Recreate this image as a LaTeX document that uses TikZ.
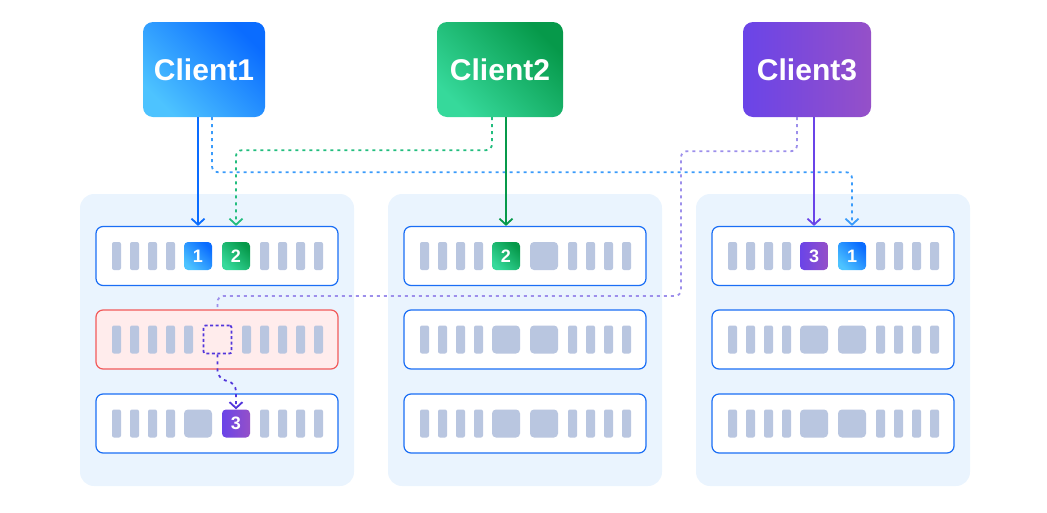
\documentclass[tikz,border=0pt]{standalone}
\usepackage{fontspec}
\setmainfont{Liberation Sans}
\usepackage{tikz}
\usetikzlibrary{arrows.meta, positioning, calc}
\usepackage{xcolor}
\definecolor{panelblue}{HTML}{EAF4FE}
\definecolor{rowblue}{HTML}{1A6EF5}
\definecolor{faultred}{HTML}{F25A5A}
\definecolor{faultpink}{HTML}{FFECEC}
\definecolor{slotgray}{HTML}{B9C6E0}
\definecolor{blueA}{HTML}{0A6CFF}
\definecolor{blueB}{HTML}{4DC3FF}
\definecolor{greenA}{HTML}{06994A}
\definecolor{greenB}{HTML}{36D99B}
\definecolor{purpleA}{HTML}{6A44E8}
\definecolor{purpleB}{HTML}{9550C8}
\definecolor{bluedot}{HTML}{3A9BFA}
\definecolor{greendot}{HTML}{22BD7E}
\definecolor{purpledot}{HTML}{9D8FEB}
\definecolor{deeppurple}{HTML}{5236DB}
\tikzstyle{panel} = [fill=panelblue, rounded corners=14pt, minimum width=274pt, minimum height=292pt, inner sep=0pt]
\tikzstyle{rowbox} = [draw=rowblue, fill=white, line width=1.2pt, rounded corners=7pt, minimum width=242pt, minimum height=59pt, inner sep=0pt]
\tikzstyle{faultrow} = [rowbox, draw=faultred, fill=faultpink]
\tikzstyle{bar} = [fill=slotgray, rounded corners=2pt, minimum width=9pt, minimum height=28pt, inner sep=0pt]
\tikzstyle{slot} = [fill=slotgray, rounded corners=4pt, minimum size=28pt, inner sep=0pt]
\tikzstyle{chunk} = [rounded corners=4pt, minimum size=28pt, inner sep=0pt, text=white, font=\fontsize{18}{18}\selectfont\bfseries]
\tikzstyle{lost} = [draw=deeppurple, line width=1.8pt, dash pattern=on 3pt off 2.5pt, rounded corners=2pt, minimum size=28pt, inner sep=0pt]
\tikzstyle{client} = [rounded corners=10pt, minimum height=95pt, inner sep=0pt, text=white, font=\fontsize{30}{30}\selectfont\bfseries]
\tikzstyle{bluegrad} = [top color=blueA, bottom color=blueB, shading angle=-45]
\tikzstyle{greengrad} = [top color=greenA, bottom color=greenB, shading angle=-45]
\tikzstyle{purplegrad} = [left color=purpleA, right color=purpleB]
\tikzstyle{arrow} = [line width=1.8pt, -{Straight Barb[length=6pt,width=13pt]}]
\tikzstyle{dotline} = [line width=1.8pt, dash pattern=on 3pt off 4pt, rounded corners=6pt]

\begin{document}
\begin{tikzpicture}[x=1pt, y=-1pt]
\useasboundingbox (0,0) rectangle (1047,512);

% Clients
\node[client, bluegrad, minimum width=122pt] (cl1) at (204,69.5) {Client1};
\node[client, greengrad, minimum width=126pt] (cl2) at (500,69.5) {Client2};
\node[client, purplegrad, minimum width=128pt] (cl3) at (807,69.5) {Client3};

% Storage panels and rows
\foreach \p/\o in {1/0, 2/308, 3/616} {
    \node[panel] (p\p) at (217+\o,340) {};
    \node[rowbox] (r\p1) at (217+\o,256) {};
    \node[rowbox] (r\p3) at (217+\o,423.5) {};
}
\node[rowbox] (r22) at (525,339.5) {};
\node[rowbox] (r32) at (833,339.5) {};
\node[faultrow] (r12) at (217,339.5) {};

% Bars
\foreach \o/\y in {0/256, 0/423.5, 308/256, 308/339.5, 308/423.5, 616/256, 616/339.5, 616/423.5} {
    \foreach \x in {116.5,134.5,152.5,170.5,264.5,282.5,300.5,318.5}
        \node[bar] at (\x+\o,\y) {};
}
\foreach \x in {116.5,134.5,152.5,170.5,188.5,246.5,264.5,282.5,300.5,318.5}
    \node[bar] at (\x,339.5) {};

% Chunks
\node[chunk, bluegrad] (b11) at (198,256) {1};
\node[chunk, greengrad] (g11) at (236,256) {2};
\node[lost] (d12) at (217.5,339.5) {};
\node[slot] at (198,423.5) {};
\node[chunk, purplegrad] (v13) at (236,423.5) {3};
\node[chunk, greengrad] (g21) at (506,256) {2};
\node[slot] at (544,256) {};
\node[slot] at (506,339.5) {};
\node[slot] at (544,339.5) {};
\node[slot] at (506,423.5) {};
\node[slot] at (544,423.5) {};
\node[chunk, purplegrad] (v31) at (814,256) {3};
\node[chunk, bluegrad] (b31) at (852,256) {1};
\node[slot] at (814,339.5) {};
\node[slot] at (852,339.5) {};
\node[slot] at (814,423.5) {};
\node[slot] at (852,423.5) {};

% Writes
\coordinate (detour) at (681,296);
\draw[dotline, purpledot] ($(cl3.south)+(-10,0)$) -- ++(0,34) -| (detour) -| (r12.north -| d12);
\draw[dotline, arrow, bluedot] ($(cl1.south)+(8,0)$) -- ++(0,55) -| (r31.north -| b31);
\draw[dotline, arrow, greendot] ($(cl2.south)+(-8,0)$) -- ++(0,33) -| (r11.north -| g11);
\draw[arrow, blueA] (cl1.south -| b11) -- (r11.north -| b11);
\draw[arrow, greenA] (cl2.south -| g21) -- (r21.north -| g21);
\draw[arrow, purpleA] (cl3.south -| v31) -- (r31.north -| v31);
\draw[dotline, arrow, deeppurple, rounded corners=8pt] (d12.south) -- ($(d12.south)+(0,24)$) -- ($(v13.north)+(0,-26)$) -- (v13.north);
\end{tikzpicture}
\end{document}
